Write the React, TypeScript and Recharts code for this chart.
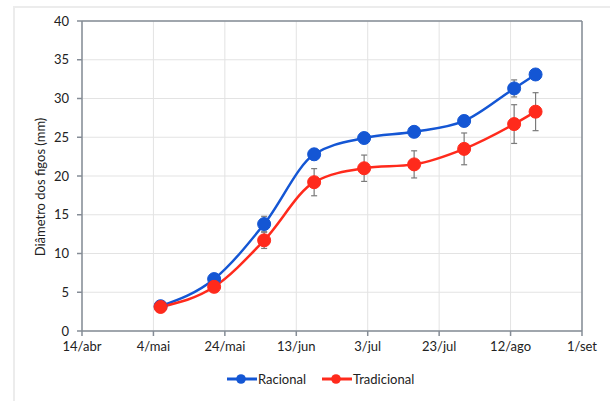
import React from 'react';
import { LineChart, Line, CartesianGrid, XAxis, YAxis, ErrorBar, ReferenceLine, Label } from 'recharts';

// dias contados a partir de 14/abr
const dias = [22, 37, 51, 65, 79, 93, 107, 121, 127];
const racional = [3.2, 6.7, 13.8, 22.8, 24.9, 25.7, 27.1, 31.3, 33.1];
const racionalErr = [0.3, 0.4, 1.0, 0.7, 0.4, 0.4, 0.7, 1.1, 0.5];
const tradicional = [3.1, 5.7, 11.7, 19.2, 21.0, 21.5, 23.5, 26.7, 28.3];
const tradicionalErr = [0.3, 0.5, 1.05, 1.75, 1.7, 1.75, 2.05, 2.5, 2.45];

const xTicks = [0, 20, 40, 60, 80, 100, 120, 140];
const xTickLabels = ['14/abr', '4/mai', '24/mai', '13/jun', '3/jul', '23/jul', '12/ago', '1/set'];
const yTicks = [0, 5, 10, 15, 20, 25, 30, 35, 40];

const BLUE = '#1456d4';
const RED = '#ff2a1c';
const AXIS = '#858c96';
const FONT = 'Lato, "Open Sans", sans-serif';

const data = dias.map((d, i) => ({
  dia: d,
  racional: racional[i],
  racionalErr: racionalErr[i],
  tradicional: tradicional[i],
  tradicionalErr: tradicionalErr[i],
}));

const LegendItem = ({ color, label }: { color: string; label: string }) => (
  <div style={{ display: 'flex', alignItems: 'center', marginRight: 16 }}>
    <svg width={30} height={12}>
      <line x1={0} y1={6} x2={30} y2={6} stroke={color} strokeWidth={3} />
      <circle cx={14} cy={6} r={4.8} fill={color} />
    </svg>
    <span style={{ fontFamily: FONT, fontSize: 13, color: '#222', marginLeft: 1 }}>{label}</span>
  </div>
);

const YLabel = ({ viewBox }: any) => {
  const cx = viewBox.x + viewBox.width / 2 - 1;
  const cy = viewBox.y + viewBox.height / 2 + 11;
  return (
    <text
      x={cx}
      y={cy}
      transform={`rotate(-90, ${cx}, ${cy})`}
      textAnchor="middle"
      dominantBaseline="central"
      fontSize={13}
      fill="#222"
      fontFamily={FONT}
    >
      Diâmetro dos figos (mm)
    </text>
  );
};

export default function App() {
  return (
    <div style={{ position: 'absolute', left: 0, top: 0, width: 610, height: 401, background: '#fff' }}>
      <div
        style={{
          position: 'absolute',
          left: 13,
          top: 6,
          width: 597,
          height: 395,
          borderLeft: '2px solid #ececec',
          borderTop: '2px solid #ececec',
        }}
      />
      <LineChart
        width={610}
        height={401}
        data={data}
        margin={{ top: 21, right: 28, bottom: 40, left: 0 }}
        style={{ position: 'absolute', left: 0, top: 0 }}
      >
        <CartesianGrid stroke="#e3e3e3" strokeWidth={1} />
        <XAxis
          dataKey="dia"
          type="number"
          domain={[0, 140]}
          ticks={xTicks}
          tickFormatter={(v: number) => xTickLabels[xTicks.indexOf(v)]}
          interval={0}
          height={30}
          tickSize={5}
          tickMargin={6}
          stroke={AXIS}
          strokeWidth={1.5}
          tick={{ fontSize: 13, fill: '#222', fontFamily: FONT }}
        />
        <YAxis
          type="number"
          domain={[0, 40]}
          ticks={yTicks}
          interval={0}
          width={82}
          tickSize={5}
          tickMargin={8}
          stroke={AXIS}
          strokeWidth={1.5}
          tick={{ fontSize: 13, fill: '#222', fontFamily: FONT }}
        >
          <Label content={YLabel} />
        </YAxis>
        <ReferenceLine y={40} stroke={AXIS} strokeWidth={1.5} />
        <ReferenceLine x={140} stroke={AXIS} strokeWidth={1.5} />
        <Line
          type="monotone"
          dataKey="racional"
          stroke={BLUE}
          strokeWidth={2.5}
          dot={{ r: 6.5, fill: BLUE, stroke: BLUE, strokeWidth: 1 }}
          activeDot={false}
          isAnimationActive={false}
        >
          <ErrorBar dataKey="racionalErr" direction="y" width={3} stroke="#7a7a7a" strokeWidth={1.2} />
        </Line>
        <Line
          type="monotone"
          dataKey="tradicional"
          stroke={RED}
          strokeWidth={2.5}
          dot={{ r: 6.5, fill: RED, stroke: RED, strokeWidth: 1 }}
          activeDot={false}
          isAnimationActive={false}
        >
          <ErrorBar dataKey="tradicionalErr" direction="y" width={3} stroke="#7a7a7a" strokeWidth={1.2} />
        </Line>
      </LineChart>
      <div
        style={{
          position: 'absolute',
          left: 227,
          top: 371,
          display: 'flex',
          alignItems: 'center',
        }}
      >
        <LegendItem color={BLUE} label="Racional" />
        <LegendItem color={RED} label="Tradicional" />
      </div>
    </div>
  );
}
